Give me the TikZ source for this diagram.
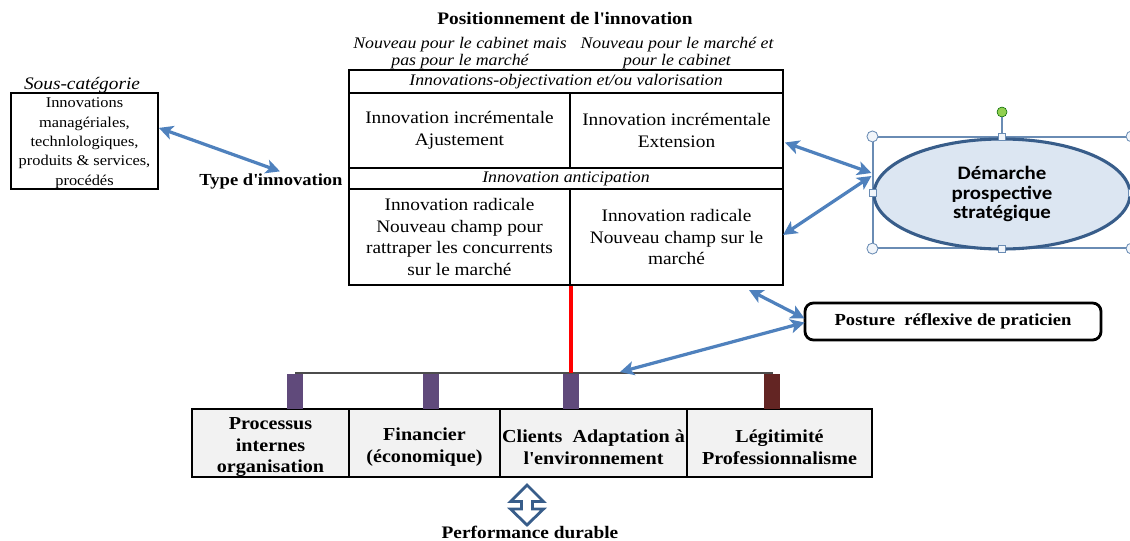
\documentclass[tikz,border=0pt]{standalone}
\usepackage{fontspec}
\setmainfont{Liberation Serif}[FakeStretch=1.1]
\newfontfamily\ellfont{Carlito}[FakeStretch=1.1]
\usetikzlibrary{arrows.meta, positioning, calc, shapes.geometric}
\usepackage{xcolor}
\definecolor{linkblue}{HTML}{4F81BD}
\definecolor{ellblue}{HTML}{385D8A}
\definecolor{ellfill}{HTML}{DCE6F2}
\definecolor{barpurple}{HTML}{604A7B}
\definecolor{barbrown}{HTML}{632523}
\definecolor{boxgray}{HTML}{F2F2F2}
\definecolor{framegray}{HTML}{6A8CB4}
\definecolor{rotgreen}{HTML}{92D050}
\def\px{0.025cm}
\newcommand{\setsz}[2]{\fontsize{#1pt}{#2pt}\selectfont}

\begin{document}
\begin{tikzpicture}[x=\px, y=-\px]
    \tikzstyle{link}=[{Stealth[length=10pt,width=10pt,inset=2.5pt]}-{Stealth[length=10pt,width=10pt,inset=2.5pt]}, draw=linkblue, line width=2.3pt]
    \tikzstyle{cell}=[draw, line width=1.4pt, inner sep=0pt, align=center, font=\setsz{12.5}{15.6}]
    \tikzstyle{band}=[cell, font=\itshape\setsz{11.5}{12}]
    \tikzstyle{perf}=[draw, fill=boxgray, line width=1pt, minimum height=68*\px, inner sep=0pt]
    \tikzstyle{perftxt}=[align=center, inner sep=0pt, yshift=-3pt, font=\bfseries\setsz{13}{15.2}]
    \tikzstyle{bar}=[minimum width=16*\px, minimum height=35*\px, inner sep=0pt]
    \tikzstyle{handle}=[draw=framegray, fill=ellfill!40, line width=0.6pt, inner sep=0pt]
    \useasboundingbox (0,0) rectangle (1130,540);

    % Draw the headings
    \node[font=\bfseries\setsz{12.5}{15}] (title) at (565,18) {Positionnement de l\textquotesingle innovation};
    \node[font=\itshape\setsz{11.5}{12}, align=center] (head-1) at (460,53) {Nouveau pour le cabinet mais\\pas pour le marché};
    \node[font=\itshape\setsz{11.5}{12}, align=center] (head-2) at (677,53) {Nouveau pour le marché et\\pour le cabinet};

    % Draw the table
    \node[band, minimum width=434*\px, minimum height=23*\px] (R-1) at (566,81.5) {Innovations-objectivation et/ou valorisation};
    \node[cell, minimum width=221*\px, minimum height=75*\px] (C-1-1) at (459.5,130.5) {Innovation incrémentale\\Ajustement};
    \node[cell, minimum width=213*\px, minimum height=75*\px] (C-1-2) at (676.5,130.5) {Innovation incrémentale\\Extension};
    \node[band, minimum width=434*\px, minimum height=21*\px] (R-2) at (566,178.5) {Innovation anticipation};
    \node[cell, minimum width=221*\px, minimum height=96*\px] (C-2-1) at (459.5,237) {Innovation radicale\\Nouveau champ pour\\rattraper les concurrents\\sur le marché};
    \node[cell, minimum width=213*\px, minimum height=96*\px] (C-2-2) at (676.5,237) {Innovation radicale\\Nouveau champ sur le\\marché};

    % Draw the sub-category
    \node[font=\itshape\setsz{12.5}{15}] (subhead) at (82,85) {Sous-catégorie};
    \node[draw, line width=1.2pt, minimum width=147*\px, minimum height=96*\px, inner sep=0pt,
          label={[align=center, inner sep=0pt, yshift=-1.5pt, font=\setsz{10.6}{13.8}]center:{Innovations\\managériales,\\technlologiques,\\produits \& services,\\procédés}}] (sub) at (84.5,141) {};
    \node[font=\bfseries\setsz{12}{14}] (type) at (271,181) {Type d\textquotesingle innovation};

    % Draw the selected ellipse
    \node[draw=framegray, line width=0.8pt, minimum width=258*\px, minimum height=111*\px] (frame) at (1002,192.5) {};
    \node[ellipse, draw=ellblue, fill=ellfill, line width=2.2pt, minimum width=256*\px, minimum height=110*\px, inner sep=0pt, align=center, font=\ellfont\bfseries\setsz{13.5}{14}] (dps) at (1002,194) {Démarche\\prospective\\stratégique};
    \node[circle, draw=green!40!black, fill=rotgreen, minimum size=10*\px, inner sep=0pt] (rot) at (1002,112) {};
    \draw[framegray, line width=0.8pt] (rot) -- (frame.north);
    \foreach \a [count=\i] in {north west, north east, south west, south east}
        \node[handle, circle, minimum size=11*\px] (ci-\i) at (frame.\a) {};
    \foreach \a [count=\i] in {north, south, west, east}
        \node[handle, minimum size=7*\px] (sq-\i) at (frame.\a) {};

    % Draw the posture
    \node[draw, line width=2pt, rounded corners=6pt, minimum width=296*\px, minimum height=37*\px, font=\bfseries\setsz{12}{14}] (post) at (953,321.5) {Posture\ \ réflexive de praticien};

    % Draw the performance boxes
    \coordinate (L-l) at (295,373);
    \coordinate (L-r) at (773,373);
    \coordinate (L-a) at (620,372);
    \draw[black!70, line width=1.5pt] (L-l) -- (L-r);
    \draw[red, line width=2.2pt] (C-2-1.south east) -- (C-2-1.south east |- L-l);
    \foreach \cx/\bw/\lbl [count=\i] in {270.5/157/{Processus\\internes\\organisation}, 424.5/151/{Financier\\(économique)}, 593.5/187/{Clients\ \ Adaptation à\\l\textquotesingle environnement}, 779.5/185/{Légitimité\\Professionnalisme}}
        \node[perf, minimum width=\bw*\px, label={[perftxt]center:{\lbl}}] (P-\i) at (\cx,443) {};
    \foreach \cx/\col [count=\i] in {295/barpurple, 431/barpurple, 571/barpurple, 772/barbrown}
        \node[bar, fill=\col] (B-\i) at (\cx,391.5) {};

    \draw[ellblue, fill=white, line width=2pt, line join=miter] (527,485) -- (543.5,501.5) -- (532.5,501.5) -- (532.5,509) -- (543.5,509) -- (527,525) -- (510.5,509) -- (521.5,509) -- (521.5,501.5) -- (510.5,501.5) -- cycle;
    \node[font=\bfseries\setsz{12.5}{15}] (pd) at (530,532) {Performance durable};

    % Draw the links
    \draw[link] (sub.10) -- ($(type.north)+(9,3)$);
    \draw[link] ($(C-1-2.east)+(1,12)$) -- ($(dps.west)+(-1,-21)$);
    \draw[link] ($(dps.west)+(-1,-18)$) -- ($(C-2-2.east)+(-1,-2)$);
    \draw[link] ($(C-2-2.south east)+(-35,4)$) -- ($(post.west)+(1,-3)$);
    \draw[link] ($(post.west)+(1,1)$) -- (L-a);
\end{tikzpicture}
\end{document}
